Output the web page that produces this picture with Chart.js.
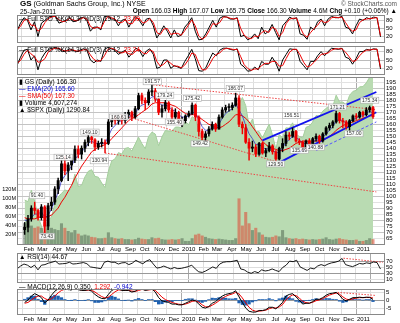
<!DOCTYPE html>
<html><head><meta charset="utf-8">
<script src="https://cdn.jsdelivr.net/npm/chart.js@4.4.1/dist/chart.umd.min.js"></script>
<style>
body{margin:0;width:400px;height:323px;background:#fff;position:relative;overflow:hidden;font-family:Arial,"Liberation Sans",sans-serif}
canvas{position:absolute;left:0;top:0}
.t{position:absolute;font-size:6.5px;white-space:nowrap;color:#000;line-height:7px;z-index:5}
</style></head><body>
<div class="t" style="left:20px;top:0px;font-size:7px"><b style="font-size:8px">GS</b> (Goldman Sachs Group, Inc.) NYSE</div>
<div class="t" style="left:20px;top:8px">25-Jan-2011</div>
<div class="t" style="right:3px;top:0px;color:#555">© StockCharts.com</div>
<div class="t" style="right:3px;top:7px"><b>Open</b> 166.03 <b>High</b> 167.07 <b>Low</b> 165.75 <b>Close</b> 166.30 <b>Volume</b> 4.6M <b>Chg</b> +0.10 (+0.06%) ▲</div>
<div class="t" style="left:19px;top:15px">— Full STO %K(20,3) %D(3) 19.12, <span style="color:#e00">23.00</span></div>
<div class="t" style="left:19px;top:46px">— Full STO %K(14,3) %D(3) 18.12, <span style="color:#e00">23.24</span></div>
<div class="t" style="left:19px;top:78px">▮ GS (Daily) 166.30<br><span style="color:#00c">— EMA(20) 165.60</span><br><span style="color:#e00">— SMA(50) 167.30</span><br>▮ Volume 4,607,274<br>▲ $SPX (Daily) 1290.84</div>
<div class="t" style="left:19px;top:253px">▲ RSI(14) 44.67</div>
<div class="t" style="left:19px;top:283px">— MACD(12,26,9) 0.350, <span style="color:#e00">1.292</span>, <span style="color:#00c">-0.942</span></div>

<canvas id="c1" width="400" height="323"></canvas>
<canvas id="c2" width="400" height="323"></canvas>
<canvas id="c3" width="400" height="323"></canvas>
<canvas id="c4" width="400" height="323"></canvas>
<canvas id="c5" width="400" height="323"></canvas>
<script>
// ---- data (weekly, week 0 = 23-Jan-2009) ----
const startDate = Date.UTC(2009,0,23);
const monthLabels = ['Feb','Mar','Apr','May','Jun','Jul','Aug','Sep','Oct','Nov','Dec','2010','Feb','Mar','Apr','May','Jun','Jul','Aug','Sep','Oct','Nov','Dec','2011'];
const monthDates = [[2009,1],[2009,2],[2009,3],[2009,4],[2009,5],[2009,6],[2009,7],[2009,8],[2009,9],[2009,10],[2009,11],[2010,0],[2010,1],[2010,2],[2010,3],[2010,4],[2010,5],[2010,6],[2010,7],[2010,8],[2010,9],[2010,10],[2010,11],[2011,0]];

const open  = [72,74,81,90,88,82,91,75,92,95,106,113,127,121,126,130,139,135,140,145,149,147,141,144,145,144,162,165,163,166,163,168,170,166,173,184,180,178,187,188,181,170,173,178,172,166,170,163,163,167,169,176,166,154,149,152,156,160,156,166,172,174,174,176,182,160,157,145,140,141,135,144,136,138,142,137,131,140,144,151,150,154,146,145,140,146,143,148,150,146,152,157,159,162,169,163,162,158,163,167,166,170,168,172,174];
const high  = [78,84,92,95,89,93,92,94,99,108,115,130,133,128,132,142,142,142,147,151,150,148,146,148,147,164,167,167,168,168,170,172,171,175,186,186,182,189,193.6,190,183,176,180,179,174,173,171,166,168,171,178,177,167,156,154,158,162,161,168,174,176,177,178,186,184,162,160,148,146,143,145,145,140,145,143,138,141,148,154,153,157,155,148,146,147,148,149,152,151,153,158,161,163,171,170,165,163,164,168,169,171,171,174,175.3,175];
const low   = [68,70,79,85,80,80,69,72,88,93,102,112,118,113,122,128,132,131,137,142,144,138,139,141,136,143,158,160,160,160,161,165,163,165,172,177,172,176,184,179,168,166,171,170,162,164,160,158,161,166,168,163,150,147,146,150,155,154,156,165,170,171,172,175,158,152,144,130,137,133,134,135,133,137,135,129.5,130,137,142,147,149,145,143,138,139,142,142,146,144,145,151,155,157,161,161,157,156,154,162,164,165,166,167,170,165];
const close = [74,81,90,88,82,91,75,92,95,106,113,127,121,126,130,139,135,140,145,149,147,141,144,145,144,162,165,163,166,163,168,170,166,173,184,180,178,187,188,181,170,173,178,172,166,170,163,163,167,169,176,166,154,149,152,156,160,156,166,172,174,174,176,182,160,157,145,140,141,135,144,136,138,142,137,131,140,144,151,150,154,146,145,140,146,143,148,150,146,152,157,159,162,169,163,162,158,163,167,166,170,168,172,174,166.3];
const ema20 = [80,79,82,85,85,87,82,84,89,96,103,113,117,121,125,131,134,137,140,144,146,144,144,144,144,150,156,159,162,163,165,167,167,169,174,176,177,180,183,183,178,176,176,175,172,171,168,166,166,167,170,169,164,158,155,155,157,157,160,165,169,171,173,177,172,167,159,152,148,143,143,141,139,140,139,136,137,140,145,147,150,149,147,144,144,144,145,147,147,149,152,155,158,163,164,163,161,162,164,165,167,167,169,171,169];
const sma50 = [82,81,81,81,82,83,82,83,84,87,90,95,99,104,109,115,120,125,129,133,137,139,141,142,143,145,148,151,154,157,160,163,165,166,168,170,172,174,177,178,178,178,178,177,176,175,173,171,169,168,168,168,166,164,162,160,159,158,157,158,160,162,165,168,168,167,165,162,158,154,150,146,143,141,140,139,138,138,139,140,142,144,145,146,146,146,146,146,146,147,148,150,152,155,157,159,160,161,162,163,164,165,166,167,167.3];
const volumeM = [45,38,40,35,38,35,48,40,35,32,30,45,35,28,25,30,22,18,20,18,15,14,12,12,13,25,14,12,11,12,10,10,9,10,13,11,10,10,14,12,13,10,9,9,10,9,10,12,6,6,12,20,22,18,15,12,11,10,11,10,9,8,8,12,100,40,70,45,30,35,25,20,15,14,15,18,16,30,14,12,11,12,10,11,10,9,10,9,10,11,14,10,9,11,12,10,9,8,8,9,6,6,8,12,10];
const spx = [832,826,869,827,770,735,683,756,768,816,843,857,870,866,877,929,883,887,919,940,946,921,918,896,879,940,979,987,1010,1005,1026,1029,1016,1042,1068,1044,1025,1071,1087,1080,1036,1069,1093,1091,1091,1106,1106,1102,1126,1115,1145,1136,1092,1074,1066,1075,1109,1105,1138,1150,1160,1167,1178,1194,1192,1217,1187,1111,1136,1088,1089,1065,1092,1117,1076,1023,1078,1065,1103,1102,1122,1079,1071,1065,1105,1110,1125,1149,1147,1166,1176,1183,1183,1226,1200,1200,1190,1225,1240,1244,1257,1258,1272,1293,1291];
const sto20K = [40,70,90,80,45,75,20,70,80,92,95,95,70,75,80,92,75,78,88,92,80,40,55,55,45,95,95,85,85,60,80,85,55,80,95,80,60,85,88,60,15,35,60,40,15,45,20,25,55,70,90,40,8,10,30,55,80,55,88,95,92,85,85,90,20,25,8,15,30,12,55,30,40,65,35,8,60,75,92,85,90,30,25,10,55,45,75,85,60,85,95,90,90,95,55,50,30,60,85,80,90,85,92,90,19];
const sto20D = [45,58,80,85,62,62,40,50,72,87,93,95,82,75,78,87,82,78,84,90,85,58,50,55,50,75,95,90,85,72,72,82,68,68,88,87,70,75,87,72,35,28,48,50,28,32,32,25,42,62,82,60,22,10,20,42,68,65,72,92,93,88,85,88,50,25,15,12,22,20,35,42,35,55,48,20,35,68,85,88,88,55,28,18,35,50,62,80,72,75,90,92,90,92,72,52,40,45,72,82,85,87,88,91,23];
const sto14K = [30,60,85,88,50,65,15,55,75,88,92,95,90,80,82,90,85,80,85,90,85,50,40,50,45,88,95,90,85,70,78,85,60,75,92,85,62,82,90,70,20,25,50,50,20,30,25,20,45,65,88,55,12,10,22,50,75,65,85,92,92,88,85,90,35,25,10,12,25,15,45,35,35,60,40,10,50,70,90,88,88,45,30,15,45,45,65,80,65,80,92,90,88,92,60,55,35,55,80,80,88,85,90,88,18];
const sto14D = [38,48,70,85,72,62,42,45,55,80,88,92,92,85,82,85,86,82,82,86,87,68,52,45,48,65,88,92,88,78,75,80,72,70,82,88,75,72,86,80,45,28,35,48,38,28,28,22,32,50,75,70,38,15,15,32,55,70,75,88,92,90,87,88,62,33,20,13,18,18,30,38,38,45,45,28,30,55,78,88,88,68,42,25,30,42,55,70,72,75,85,90,90,90,78,62,45,48,65,78,85,86,88,89,23];
const rsi14 = [45,55,62,58,50,58,42,58,60,65,68,72,62,63,64,68,62,63,65,67,63,52,50,48,46,68,72,68,68,62,66,67,60,65,75,68,63,72,77,62,48,50,55,50,45,50,46,47,50,53,58,45,35,33,38,45,52,47,62,68,70,70,72,75,45,42,34,30,36,32,42,38,40,45,40,36,50,58,72,70,75,52,46,40,48,45,55,60,56,62,66,68,72,81,60,56,53,58,64,62,66,64,69,67,44.67];
const macdLine = [-1.5,0,2.5,4,3,1.5,-1.7,0,3,5.5,7,7.5,7,6.5,6.5,7,6.5,6,6,6.5,5.5,3.5,2,1,0.8,3.5,6,7,7,6,6,6,5,5.5,7,7,6,6.5,7,5,1.5,-0.5,-1,-1.5,-2.5,-2.5,-3,-3,-2,-1,0,-0.5,-2.5,-4.5,-5,-4,-2,-1,1,2.5,3.5,4,4.5,5.8,2,-1.5,-5,-7,-7.5,-7.5,-6.5,-6.5,-6,-4.5,-4.5,-5.5,-3.5,-1.5,2.5,3.5,4,2,0,-2.5,-2,-2,-1,0.5,0.5,1.5,3,4,4.3,4.8,3,0.5,-0.5,0.5,1.5,1.5,1.8,1.5,1.8,1.7,0.35];
const macdSignal = [-2,-1.5,0,1.5,2.5,2.5,1,0,0.8,2.5,4.5,6,6.8,6.8,6.6,6.7,6.7,6.3,6.1,6.2,6,5,3.5,2.2,1.3,1.8,3.5,5.2,6.3,6.3,6.1,6,5.6,5.4,6,6.6,6.4,6.3,6.6,6,4,1.8,0.3,-0.6,-1.5,-2.1,-2.6,-2.8,-2.5,-1.8,-0.8,-0.5,-1.3,-3,-4.2,-4.3,-3.2,-2,-0.5,1,2.3,3.2,3.8,4.8,3.8,1.3,-1.8,-4.5,-6.3,-7,-6.9,-6.7,-6.3,-5.4,-4.8,-5,-4.3,-2.8,0,2,3.2,2.8,1.3,-0.8,-1.6,-1.9,-1.4,-0.4,0.1,0.9,2,3.1,3.8,4.4,3.7,2,0.6,0.2,0.8,1.2,1.5,1.5,1.6,1.6,1.292];
const macdHist = [0.5,1.5,2.5,2.5,0.5,-1,-2.7,0,2.2,3,2.5,1.5,0.2,-0.3,-0.1,0.3,-0.2,-0.3,-0.1,0.3,-0.5,-1.5,-1.5,-1.2,-0.5,1.7,2.5,1.8,0.7,-0.3,-0.1,0,-0.6,0.1,1,0.4,-0.4,0.2,0.4,-1,-2.5,-2.3,-1.3,-0.9,-1,-0.4,-0.4,-0.2,0.5,0.8,0.8,0,-1.2,-1.5,-0.8,0.3,1.2,1,1.5,1.5,1.2,0.8,0.7,1,-1.8,-2.8,-3.2,-2.5,-1.2,-0.5,0.4,0.2,0.3,0.9,0.3,-0.5,0.8,1.3,2.5,1.5,0.8,-0.8,-1.3,-1.7,-0.4,-0.1,0.4,0.9,0.4,0.6,1,0.9,0.5,0.4,-0.7,-1.5,-1.1,0.3,0.7,0.3,0.3,0,0.2,0.1,-0.942];
// trend lines: [week0, value0, week1, value1]
const blueLines = [[71,146.5,105,187],[76,128,105,170],[87,138,105,162]];
const redDotted = [[38.3,193,105,172.2],[28.6,168.1,76.2,127.8],[24,136,105,103.5]];
const rsiDotted = [[93.4,82,104.7,68]];
const macdDotted = [[93.4,4.8,104.7,2.9]];
// price annotations: week, price (label centre), text
const annWeek  = [3.7, 6.6, 11.5, 19.5, 22.3, 28.1, 38.1, 41.8, 44.7, 50.1, 52.4, 62.9, 74.9, 79.7, 82, 86.8, 93.4, 98.3, 103];
const annPrice = [100.3, 66.5, 132.5, 153.5, 129.5, 166.1, 195.5, 184.3, 161.9, 181.6, 143.7, 190, 126.9, 167.5, 138.1, 140.9, 174.5, 152.1, 180.1];
const annText  = ['91.40','73.43','125.14','149.10','130.94','160.61','191.57','179.24','155.40','175.42','149.42','186.07','129.50','156.51','135.69','140.88','171.21','157.00','175.34'];

// ---- helpers ----
const weekOf = (y,m,d) => (Date.UTC(y,m,d) - startDate) / 864e5 / 7;
const monthPos = monthDates.map(([y,m]) => weekOf(y,m,1));
const idx = close.map((_, i) => i);
const pts = arr => arr.map((v, i) => ({x: idx[i], y: v}));
const seg = l => [{x:l[0],y:l[1]},{x:l[2],y:l[3]}];
Chart.defaults.font.family = 'Arial, "Liberation Sans", sans-serif';
Chart.defaults.font.size = 6;
Chart.defaults.color = '#000';
Chart.defaults.animation = false;
Chart.defaults.events = [];
Chart.defaults.plugins.legend.display = false;
Chart.defaults.plugins.tooltip.enabled = false;

const frame = {id:'frame', afterDraw(c){const a=c.chartArea,x=c.ctx;x.save();x.strokeStyle='#888';x.lineWidth=1;x.strokeRect(Math.round(a.left)+0.5,Math.round(a.top)+0.5,Math.round(a.right-a.left),Math.round(a.bottom-a.top));x.restore();}};
const annPlugin = {id:'ann', afterDatasetsDraw(c){
  const x=c.scales.x, y=c.scales.y, ctx=c.ctx; ctx.save();
  ctx.font='5px Arial, "Liberation Sans", sans-serif'; ctx.textAlign='center'; ctx.textBaseline='middle';
  annText.forEach((t,i)=>{const px=x.getPixelForValue(annWeek[i]), py=y.getPixelForValue(annPrice[i]);
    const w=ctx.measureText(t).width+3; ctx.fillStyle='rgba(255,255,255,0.9)'; ctx.fillRect(px-w/2,py-3,w,6);
    ctx.strokeStyle='#aaa'; ctx.lineWidth=0.6; ctx.strokeRect(px-w/2,py-3,w,6);
    ctx.fillStyle='#333'; ctx.fillText(t,px,py+0.3);});
  ctx.restore();}};

function xAxis(showLabels){
  return {type:'linear', min:0, max:105, position:'bottom',
    afterBuildTicks: s => { s.ticks = monthPos.map(v => ({value:v})); },
    afterFit: s => { s.height = showLabels ? 9 : 0; },
    grid:{color:(ctx)=> (ctx.tick && (ctx.index===11||ctx.index===23)) ? '#aaa':'#ddd', drawTicks:false, lineWidth:1},
    border:{display:false},
    ticks:{display:showLabels, autoSkip:false, maxRotation:0, padding:2, font:{size:6},
      callback:(v,i)=>monthLabels[i]}};
}
function yRight(min,max,vals,gridColor,extra){
  return Object.assign({position:'right', min, max,
    afterBuildTicks: s => { s.ticks = vals.map(v => ({value:v})); },
    afterFit: s => { s.width = 16; },
    grid:{color:gridColor||'#ddd', drawTicks:false}, border:{display:false},
    ticks:{autoSkip:false, padding:2, font:{size:6}}}, extra||{});
}
function lineDs(data, color, width, extra){
  return Object.assign({type:'line', data, borderColor:color, borderWidth:width, pointRadius:0, tension:0, fill:false}, extra||{});
}

// ---- STO panels ----
function stoChart(id, top, bottom, k, d){
  new Chart(document.getElementById(id), {type:'line',
    data:{datasets:[lineDs(pts(d),'#e00',1), lineDs(pts(k),'#000',1)]},
    options:{responsive:false, layout:{padding:{left:17,right:0,top:top,bottom:323-bottom}},
      scales:{x:xAxis(false), y:yRight(0,100,[20,50,80],c=>c.tick&&c.tick.value===50?'#bbb':'#ccc')}},
    plugins:[frame]});
}
stoChart('c1', 15, 42, sto20K, sto20D);
stoChart('c2', 46, 74, sto14K, sto14D);

// ---- main price panel ----
const candleColor = close.map((c,i)=> c>=open[i] ? '#000' : '#e00');
const priceTicks = []; for (let p=65;p<=195;p+=5) priceTicks.push(p);
const trendDs = [];
blueLines.forEach((l,i)=>trendDs.push(lineDs(seg(l), i===2?'#55f':'#11e', i===2?1:1.8, {yAxisID:'y', order:2, borderDash: i===2?[3,2]:[]})));
redDotted.forEach(l=>trendDs.push(lineDs(seg(l), '#e44', 1, {yAxisID:'y', order:2, borderDash:[1.5,1.5]})));

new Chart(document.getElementById('c3'), {type:'bar',
  data:{datasets:[
    lineDs(pts(spx), '#a4cf9c', 1, {yAxisID:'ySpx', fill:'start', backgroundColor:'#b9dbb2', order:10}),
    {type:'bar', data:pts(volumeM), yAxisID:'yVol', grouped:false, barThickness:2.4, order:9,
      backgroundColor: close.map((c,i)=> c>=open[i] ? 'rgba(60,80,60,0.45)' : 'rgba(220,80,60,0.6)')},
    lineDs(pts(sma50), '#e00', 1, {yAxisID:'y', order:4}),
    lineDs(pts(ema20), '#33c', 0.8, {yAxisID:'y', order:3}),
    ...trendDs,
    {type:'bar', data:close.map((c,i)=>({x:idx[i], y:[low[i],high[i]]})), yAxisID:'y', grouped:false, barThickness:0.8, backgroundColor:candleColor, order:1},
    {type:'bar', data:close.map((c,i)=>({x:idx[i], y:[open[i],c]})), yAxisID:'y', grouped:false, barThickness:2.2, backgroundColor:candleColor, minBarLength:1, order:0}
  ]},
  options:{responsive:false, layout:{padding:{left:0,right:0,top:77,bottom:323-244-9}},
    scales:{x:xAxis(true),
      y:yRight(60,199.5,priceTicks, c=> c.tick && c.tick.value%10===0 ? '#c4c4c4':'#e2e2e2'),
      ySpx:{display:false, min:667, max:1294},
      yVol:{position:'left', min:0, max:369, afterBuildTicks:s=>{s.ticks=[20,40,60,80,100,120].map(v=>({value:v}));}, afterFit:s=>{s.width=17;},
        grid:{display:false, drawTicks:false, tickLength:0}, border:{display:false}, ticks:{autoSkip:false, padding:1, font:{size:5.5}, callback:v=>v+'M'}}}},
  plugins:[frame, annPlugin]});

// ---- RSI ----
new Chart(document.getElementById('c4'), {type:'line',
  data:{datasets:[lineDs(pts(rsi14),'#000',0.9), ...rsiDotted.map(l=>lineDs(seg(l),'#e44',1,{borderDash:[1.5,1.5]}))]},
  options:{responsive:false, layout:{padding:{left:17,right:0,top:253,bottom:323-282}},
    scales:{x:xAxis(false), y:yRight(0,100,[10,30,50,70], c=> c.tick && (c.tick.value===70||c.tick.value===30) ? '#999':'#ddd')}},
  plugins:[frame]});

// ---- MACD ----
new Chart(document.getElementById('c5'), {type:'bar',
  data:{datasets:[
    {type:'bar', data:pts(macdHist), backgroundColor:'#1c5fb0', grouped:false, barThickness:2.6, order:3},
    lineDs(pts(macdSignal),'#e00',1,{order:2}),
    lineDs(pts(macdLine),'#000',1,{order:1}),
    ...macdDotted.map(l=>lineDs(seg(l),'#e44',1,{borderDash:[1.5,1.5],order:0}))]},
  options:{responsive:false, layout:{padding:{left:17,right:0,top:289,bottom:0}},
    scales:{x:xAxis(true), y:yRight(-8.7,6.9,[-5,0,5], c=> c.tick && c.tick.value===0 ? '#999':'#ddd')}},
  plugins:[frame]});
</script>
</body></html>
